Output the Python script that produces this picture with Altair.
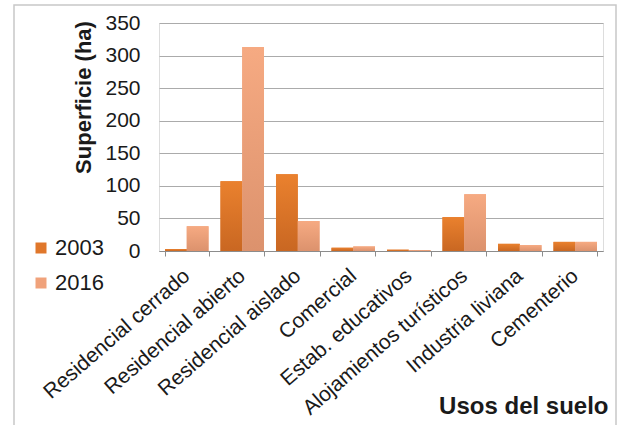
import altair as alt
import pandas as pd

categories = ["Residencial cerrado", "Residencial abierto", "Residencial aislado", "Comercial",
              "Estab. educativos", "Alojamientos turísticos", "Industria liviana", "Cementerio"]
years = ["2003", "2016"]
values_2003 = [3, 107, 118, 5, 2, 52, 11, 14]
values_2016 = [38, 313, 46, 7, 1.5, 87, 9, 14]
y_ticks = [0, 50, 100, 150, 200, 250, 300, 350]

rows = []
for c, a, b in zip(categories, values_2003, values_2016):
    rows.append({"uso": c, "year": "2003", "ha": a})
    rows.append({"uso": c, "year": "2016", "ha": b})
df = pd.DataFrame(rows)

font = "Liberation Sans"
txt = "#1a1a1a"

x_enc = alt.X("uso:N", sort=categories, scale=alt.Scale(paddingInner=0.216, paddingOuter=0.108),
              axis=alt.Axis(title="Usos del suelo", labelAngle=-41, labelAlign="right",
                            labelBaseline="middle", labelFontSize=21, labelColor=txt,
                            labelFont=font, tickBand="extent", ticks=True, tickColor="#8c8c8c",
                            tickSize=5, domainColor="#8c8c8c", labelPadding=17, labelLimit=400,
                            titleFont=font, titleFontSize=24, titleFontWeight="bold",
                            titleColor=txt, titleAnchor="end", titleAlign="right",
                            titleX=449, titleY=155, titleBaseline="middle"))
y_enc = alt.Y("ha:Q", scale=alt.Scale(domain=[0, 350]),
              axis=alt.Axis(values=y_ticks, title="Superficie (ha)", labelFontSize=21,
                            labelColor=txt, labelFont=font, ticks=False, domain=False,
                            gridColor="#ABABAB", labelPadding=19, labelOverlap=False,
                            titleFont=font, titleFontSize=22, titleFontWeight="bold",
                            titleColor=txt, titleX=-76, titleY=74, titleBaseline="middle"))
xo_enc = alt.XOffset("year:N", sort=years)

base = alt.Chart(df)

solid = base.mark_bar().encode(
    x=x_enc,
    xOffset=xo_enc,
    y=y_enc,
    color=alt.Color("year:N", sort=years,
                    scale=alt.Scale(domain=years, range=["#E0772B", "#F0A27B"]),
                    legend=alt.Legend(title=None, orient="none", legendX=-129, legendY=214,
                                      symbolType="square", symbolSize=121, labelFontSize=22,
                                      labelFont=font, labelColor=txt, rowPadding=13,
                                      labelOffset=3, symbolStrokeWidth=0)),
)

def grad(top, bottom):
    return alt.Gradient(gradient="linear",
                        stops=[alt.GradientStop(color=top, offset=0),
                               alt.GradientStop(color=bottom, offset=1)],
                        x1=0, x2=0, y1=0, y2=1)

g2003 = base.transform_filter(alt.datum.year == "2003").mark_bar(
    color=grad("#EA812E", "#C96722")).encode(x=x_enc, xOffset=xo_enc, y=y_enc)
g2016 = base.transform_filter(alt.datum.year == "2016").mark_bar(
    color=grad("#F6AA82", "#DC926D")).encode(x=x_enc, xOffset=xo_enc, y=y_enc)

frame = alt.Chart(pd.DataFrame({"k": [0]})).mark_rect(
    fill=None, stroke="#C8C8C8", strokeWidth=1.5).encode(
    x=alt.value(-145), x2=alt.value(457), y=alt.value(-18), y2=alt.value(420))

chart = alt.layer(solid, g2003, g2016, frame).properties(
    width=444, height=228,
    padding={"left": 159, "top": 23, "right": 16, "bottom": 174},
    autosize=alt.AutoSizeParams(type="none"),
).configure_view(stroke=None).configure(background="white")

chart.save("out.html", embed_options={"renderer": "svg", "actions": False})
